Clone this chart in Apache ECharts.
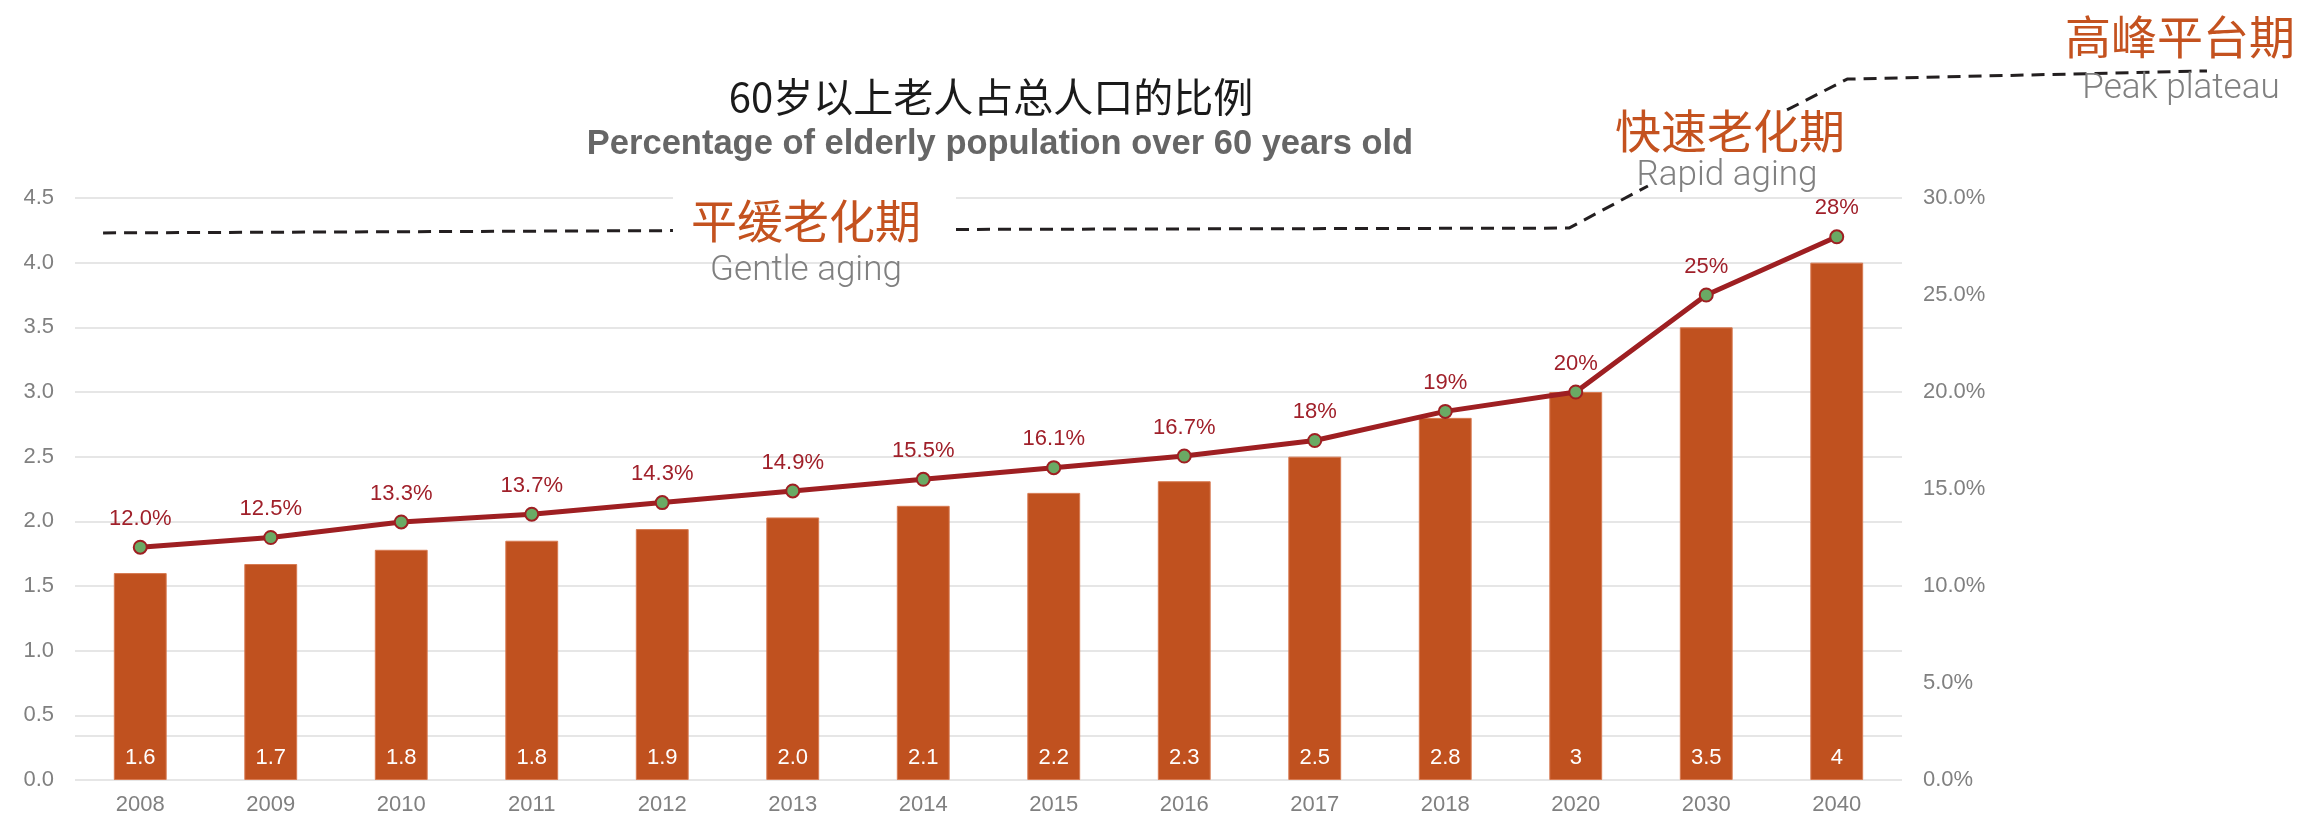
<!DOCTYPE html>
<html>
<head>
<meta charset="utf-8">
<script src="https://cdn.jsdelivr.net/npm/echarts@6/dist/echarts.min.js"></script>
<style>
html,body{margin:0;padding:0;background:#fff;}
#c{width:2323px;height:819px;}
</style>
</head>
<body>
<div id="c"></div>
<script>
// ---- data ----
const years = ['2008','2009','2010','2011','2012','2013','2014','2015','2016','2017','2018','2020','2030','2040'];
const elderlyCount = [1.6, 1.67, 1.78, 1.85, 1.94, 2.03, 2.12, 2.22, 2.31, 2.5, 2.8, 3.0, 3.5, 4.0];
const countLabels = ['1.6','1.7','1.8','1.8','1.9','2.0','2.1','2.2','2.3','2.5','2.8','3','3.5','4'];
const elderlyShare = [12.0, 12.5, 13.3, 13.7, 14.3, 14.9, 15.5, 16.1, 16.7, 17.5, 19.0, 20.0, 25.0, 28.0];
const shareLabels = ['12.0%','12.5%','13.3%','13.7%','14.3%','14.9%','15.5%','16.1%','16.7%','18%','19%','20%','25%','28%'];
const extraGridValue = 0.34;
// phase annotation path: [category position, share %], null = break
const phasePath = [[-0.285, 28.2], [4.082, 28.32], null, [6.251, 28.38], [10.948, 28.45], [11.553, 30.62], null, [12.619, 34.54], [13.08, 36.13], [15.837, 36.55]];

const W = 2323, H = 819;
const G = {left: 75, right: 421, top: 198, bottom: 39};
const plotW = W - G.left - G.right, plotH = H - G.top - G.bottom;
const band = plotW / years.length;
// overlay grid spanning further right/up, same units as the main grid
const G2 = {left: G.left, right: 15, top: 0, bottom: G.bottom};
const g2xMax = -0.5 + (W - G2.left - G2.right) / band;
const g2yMax = 30 * (H - G2.top - G2.bottom) / plotH;

const chart = echarts.init(document.getElementById('c'));
const gray = '#808080';
const phaseColor = '#C4521F';
const numFont = '"Liberation Sans", Arial, sans-serif';
const lightFont = 'Roboto, "Open Sans", sans-serif';

const option = {
  animation: false,
  grid: [G, G2],
  xAxis: [
    {type: 'category', gridIndex: 0, data: years, axisLine: {show: false}, axisTick: {show: false},
     axisLabel: {color: gray, fontSize: 22, fontFamily: numFont, margin: 14}},
    {type: 'value', gridIndex: 1, min: -0.5, max: g2xMax, show: false, splitLine: {show: false}}
  ],
  yAxis: [
    {type: 'value', gridIndex: 0, min: 0, max: 4.5, interval: 0.5, axisLine: {show: false}, axisTick: {show: false},
     splitLine: {lineStyle: {color: '#E6E6E6', width: 2}},
     axisLabel: {color: gray, fontSize: 22, fontFamily: numFont, margin: 21, formatter: v => v.toFixed(1)}},
    {type: 'value', gridIndex: 0, min: 0, max: 30, interval: 5, position: 'right', axisLine: {show: false}, axisTick: {show: false},
     splitLine: {show: false},
     axisLabel: {color: gray, fontSize: 22, fontFamily: numFont, margin: 21, formatter: v => v.toFixed(1) + '%'}},
    {type: 'value', gridIndex: 1, min: 0, max: g2yMax, show: false, splitLine: {show: false}}
  ],
  series: [
    {type: 'line', data: [], xAxisIndex: 0, yAxisIndex: 0, z: 1, silent: true,
     markLine: {silent: true, symbol: 'none', label: {show: false}, z: 1,
       lineStyle: {color: '#E6E6E6', width: 2, type: 'solid'}, data: [{yAxis: extraGridValue}]}},
    {type: 'bar', data: elderlyCount, barWidth: '40.5%', xAxisIndex: 0, yAxisIndex: 0,
     itemStyle: {color: '#C0511F', borderColor: '#D77A52', borderWidth: 1},
     label: {show: true, position: 'insideBottom', distance: 11, color: '#fff', fontSize: 22, fontFamily: numFont,
       formatter: p => countLabels[p.dataIndex]},
     z: 2},
    {type: 'line', data: elderlyShare, xAxisIndex: 0, yAxisIndex: 1,
     symbol: 'circle', symbolSize: 13,
     lineStyle: {color: '#9E1F22', width: 5},
     itemStyle: {color: '#6AAA64', borderColor: '#9E1F22', borderWidth: 2},
     label: {show: true, position: 'top', distance: 10, color: '#A0202A', fontSize: 22, fontFamily: numFont,
       formatter: p => shareLabels[p.dataIndex]},
     z: 4},
    {type: 'line', data: phasePath.map(p => p === null ? ['-', '-'] : p), xAxisIndex: 1, yAxisIndex: 2,
     clip: false, symbol: 'none', silent: true, connectNulls: false,
     lineStyle: {color: '#231F20', width: 3, type: [13, 8]}, z: 3}
  ],
  graphic: [
    {type: 'text', x: 991, y: 97, z: 100, style: {text: '60岁以上老人占总人口的比例', fill: '#1A1A1A',
      font: '40px "Noto Sans CJK SC", sans-serif', textAlign: 'center', textVerticalAlign: 'middle'}},
    {type: 'text', x: 1000, y: 144, z: 100, style: {text: 'Percentage of elderly population over 60 years old', fill: '#666666',
      font: 'bold 34.5px "Liberation Sans", Arial, sans-serif', textAlign: 'center', textVerticalAlign: 'middle'}},
    // phase 1
    {type: 'rect', z: 99, shape: {x: 673, y: 190, width: 283, height: 60}, style: {fill: '#fff'}},
    {type: 'text', x: 806, y: 221, z: 100, style: {text: '平缓老化期', fill: phaseColor,
      font: '46px "Noto Sans CJK SC", sans-serif', textAlign: 'center', textVerticalAlign: 'middle'}},
    {type: 'text', x: 806, y: 271, z: 100, style: {text: 'Gentle aging', fill: gray,
      font: '300 35px ' + lightFont, textAlign: 'center', textVerticalAlign: 'middle'}},
    // phase 2
    {type: 'text', x: 1730, y: 131, z: 100, style: {text: '快速老化期', fill: phaseColor,
      font: '46px "Noto Sans CJK SC", sans-serif', textAlign: 'center', textVerticalAlign: 'middle'}},
    {type: 'text', x: 1727, y: 176, z: 100, style: {text: 'Rapid aging', fill: gray,
      font: '300 35px ' + lightFont, textAlign: 'center', textVerticalAlign: 'middle'}},
    // phase 3
    {type: 'text', x: 2180, y: 37, z: 100, style: {text: '高峰平台期', fill: phaseColor,
      font: '46px "Noto Sans CJK SC", sans-serif', textAlign: 'center', textVerticalAlign: 'middle'}},
    {type: 'text', x: 2181, y: 89, z: 100, style: {text: 'Peak plateau', fill: gray,
      font: '300 35px ' + lightFont, textAlign: 'center', textVerticalAlign: 'middle'}}
  ]
};
chart.setOption(option);
</script>
</body>
</html>
